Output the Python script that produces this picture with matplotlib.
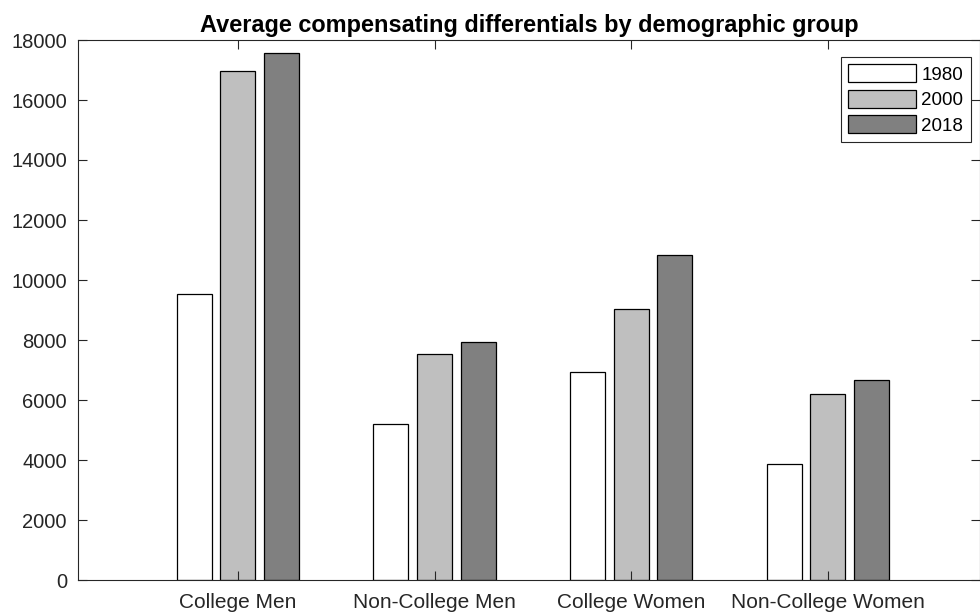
import matplotlib
matplotlib.use("Agg")
import matplotlib.pyplot as plt
import numpy as np

plt.rcParams['font.family'] = ['Liberation Sans', 'DejaVu Sans']

# Data
groups = ["College Men", "Non-College Men", "College Women", "Non-College Women"]
years = ["1980", "2000", "2018"]
vals_1980 = [9550, 5190, 6920, 3860]
vals_2000 = [16960, 7520, 9030, 6190]
vals_2018 = [17580, 7920, 10840, 6670]
colors = ["#ffffff", "#bfbfbf", "#808080"]

fig = plt.figure(figsize=(9.8, 6.15), dpi=100)
ax = fig.add_axes([78 / 980, 35 / 615, 902 / 980, 540 / 615])

x = np.arange(1, len(groups) + 1)
step = 0.222
width = 0.178
for i, (vals, lab) in enumerate(zip([vals_1980, vals_2000, vals_2018], years)):
    ax.bar(x + (i - 1) * step, vals, width, color=colors[i], edgecolor="black",
           linewidth=0.9, label=lab)

ax.set_xlim(0.1865, 4.773)
ax.set_ylim(0, 18000)
ax.set_xticks(x)
ax.set_xticklabels(groups)
ax.set_yticks(np.arange(0, 18001, 2000))

axis_col = "#262626"
for s in ax.spines.values():
    s.set_color(axis_col)
    s.set_linewidth(0.8)
ax.tick_params(direction="in", top=True, right=True, length=6.5, width=0.8,
               color=axis_col, labelcolor=axis_col, labelsize=14.5)
ax.tick_params(axis="y", pad=8)
ax.tick_params(axis="x", pad=9, labelsize=15)

ax.set_title("Average compensating differentials by demographic group",
             fontsize=16.9, fontweight="bold", pad=6)

leg = ax.legend(loc="upper right", bbox_to_anchor=(0.990, 0.969), fontsize=13.5,
                handlelength=3.6, handleheight=1.1, labelspacing=0.33,
                handletextpad=0.3, borderpad=0.4, borderaxespad=0,
                fancybox=False, framealpha=1, edgecolor="#262626")
leg.get_frame().set_linewidth(0.8)

fig.savefig("out.png", dpi=100)
